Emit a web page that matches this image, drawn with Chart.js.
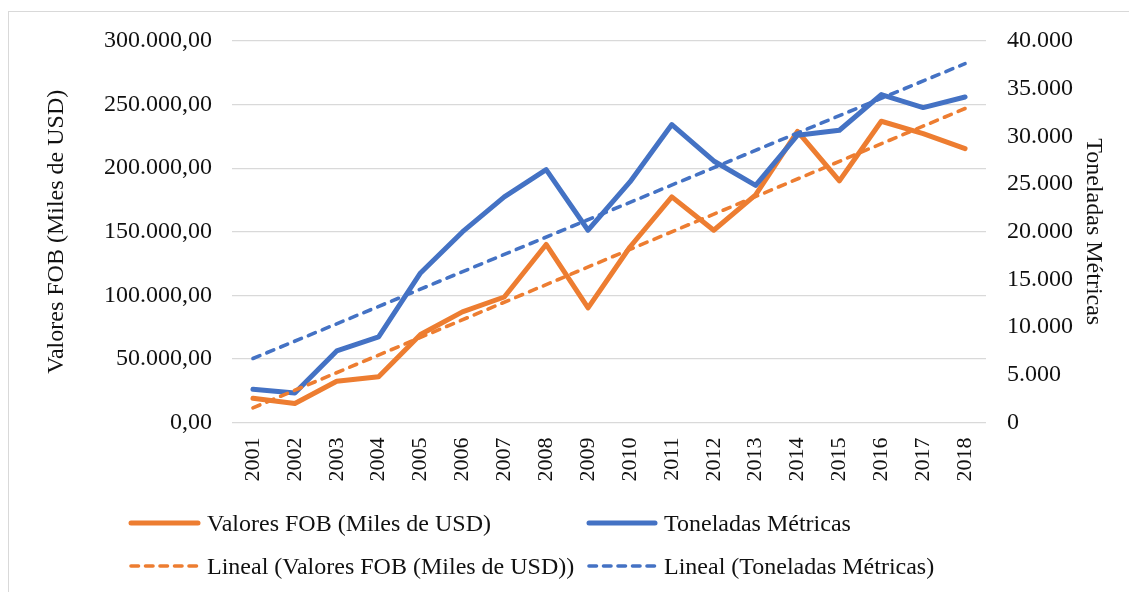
<!DOCTYPE html>
<html>
<head>
<meta charset="utf-8">
<script src="https://cdn.jsdelivr.net/npm/chart.js@4/dist/chart.umd.min.js"></script>
<style>
  html, body { margin: 0; padding: 0; background: #fff; width: 1129px; height: 592px; overflow: hidden; }
  #wrap { position: relative; width: 1129px; height: 592px; }
  #frame { position: absolute; left: 8px; top: 11px; width: 1140px; height: 600px; border: 1px solid #d9d9d9; box-sizing: border-box; }
  canvas { position: absolute; left: 0; top: 0; }
  .leg { position: absolute; font-family: 'Liberation Serif', 'Times New Roman', serif; font-size: 24px; color: #111; line-height: 24px; white-space: nowrap; display: flex; align-items: center; }
  .leg svg { margin-right: 6px; }
</style>
</head>
<body>
<div id="wrap">
  <div id="frame"></div>
  <canvas id="c" width="1129" height="592"></canvas>
  <div class="leg" style="left:128px; top:511px;"><svg width="73" height="12"><line x1="3" y1="6" x2="70" y2="6" stroke="#ED7D31" stroke-width="5" stroke-linecap="round"/></svg><span id="l1"></span></div>
  <div class="leg" style="left:586px; top:511px;"><svg width="72" height="12"><line x1="3" y1="6" x2="69" y2="6" stroke="#4472C4" stroke-width="5" stroke-linecap="round"/></svg><span id="l2"></span></div>
  <div class="leg" style="left:128px; top:554px;"><svg width="73" height="12"><line x1="3" y1="6" x2="70" y2="6" stroke="#ED7D31" stroke-width="3.6" stroke-linecap="round" stroke-dasharray="7.5 7"/></svg><span id="l3"></span></div>
  <div class="leg" style="left:586px; top:554px;"><svg width="72" height="12"><line x1="3" y1="6" x2="69" y2="6" stroke="#4472C4" stroke-width="3.6" stroke-linecap="round" stroke-dasharray="7.5 7"/></svg><span id="l4"></span></div>
</div>
<script>
// ---- data ----
const years = ['2001','2002','2003','2004','2005','2006','2007','2008','2009','2010','2011','2012','2013','2014','2015','2016','2017','2018'];
const fobValues = [19100, 14900, 32400, 35900, 69200, 87000, 98700, 140000, 90100, 138000, 177400, 151200, 179000, 229000, 190000, 236900, 227200, 215400];
const toneladas = [3490, 3100, 7500, 8970, 15680, 19980, 23650, 26520, 20160, 25220, 31240, 27420, 24870, 30120, 30640, 34380, 33020, 34130];
const trendFobEnds = [11500, 246900];   // Lineal (Valores FOB) at 2001 and 2018
const trendTonEnds = [6710, 37630];     // Lineal (Toneladas Métricas) at 2001 and 2018
const leftTicks = [0, 50000, 100000, 150000, 200000, 250000, 300000];
const rightTicks = [0, 5000, 10000, 15000, 20000, 25000, 30000, 35000, 40000];
const labels = {
  fob: 'Valores FOB (Miles de USD)',
  ton: 'Toneladas Métricas',
  trendFob: 'Lineal (Valores FOB (Miles de USD))',
  trendTon: 'Lineal (Toneladas Métricas)',
  leftTitle: 'Valores FOB (Miles de USD)',
  rightTitle: 'Toneladas Métricas'
};

function spanEnds(ends) {
  return years.map((_, i) => i === 0 ? ends[0] : (i === years.length - 1 ? ends[1] : null));
}
function thousands(n) {
  return String(Math.round(n)).replace(/\B(?=(\d{3})+(?!\d))/g, '.');
}

document.getElementById('l1').textContent = labels.fob;
document.getElementById('l2').textContent = labels.ton;
document.getElementById('l3').textContent = labels.trendFob;
document.getElementById('l4').textContent = labels.trendTon;

const ORANGE = '#ED7D31', BLUE = '#4472C4';
const FONT = "'Liberation Serif', 'Times New Roman', serif";
Chart.defaults.font.family = FONT;
Chart.defaults.color = '#111';

new Chart(document.getElementById('c'), {
  type: 'line',
  data: {
    labels: years,
    datasets: [
      { label: labels.fob, data: fobValues, yAxisID: 'y', borderColor: ORANGE, backgroundColor: ORANGE, borderWidth: 5, pointRadius: 0, borderJoinStyle: 'round', borderCapStyle: 'round', order: 4 },
      { label: labels.ton, data: toneladas, yAxisID: 'y1', borderColor: BLUE, backgroundColor: BLUE, borderWidth: 5, pointRadius: 0, borderJoinStyle: 'round', borderCapStyle: 'round', order: 3 },
      { label: labels.trendFob, data: spanEnds(trendFobEnds), yAxisID: 'y', spanGaps: true, borderColor: ORANGE, borderWidth: 3.6, borderDash: [7.5, 7.5], borderCapStyle: 'round', pointRadius: 0, order: 2 },
      { label: labels.trendTon, data: spanEnds(trendTonEnds), yAxisID: 'y1', spanGaps: true, borderColor: BLUE, borderWidth: 3.6, borderDash: [7.5, 7.5], borderCapStyle: 'round', pointRadius: 0, order: 1 }
    ]
  },
  options: {
    responsive: false,
    animation: false,
    layout: { padding: { left: 42, right: 21.6, top: 41, bottom: 0 } },
    plugins: { legend: { display: false }, tooltip: { enabled: false } },
    scales: {
      x: {
        type: 'category',
        offset: true,
        grid: { display: false, drawTicks: false },
        border: { display: false },
        ticks: { font: { size: 22 }, minRotation: 90, maxRotation: 90, padding: 15, autoSkip: false },
        afterFit: s => { s.height = 169.5; }
      },
      y: {
        position: 'left',
        min: 0, max: 300000,
        afterBuildTicks: s => { s.ticks = leftTicks.map(v => ({ value: v })); },
        grid: { color: '#d9d9d9', lineWidth: 1.2, drawTicks: false },
        border: { display: false },
        ticks: { font: { size: 24 }, padding: 20, callback: v => thousands(v) + ',00' },
        title: { display: true, text: labels.leftTitle, font: { size: 24 }, padding: 0 },
        afterFit: s => { s.width = 190; }
      },
      y1: {
        position: 'right',
        min: 0, max: 40000,
        afterBuildTicks: s => { s.ticks = rightTicks.map(v => ({ value: v })); },
        grid: { display: false, drawTicks: false },
        border: { display: false },
        ticks: { font: { size: 24 }, padding: 21, callback: v => thousands(v) },
        title: { display: true, text: labels.rightTitle, font: { size: 24 }, padding: 0 },
        afterFit: s => { s.width = 121.4; }
      }
    }
  }
});
</script>
</body>
</html>
